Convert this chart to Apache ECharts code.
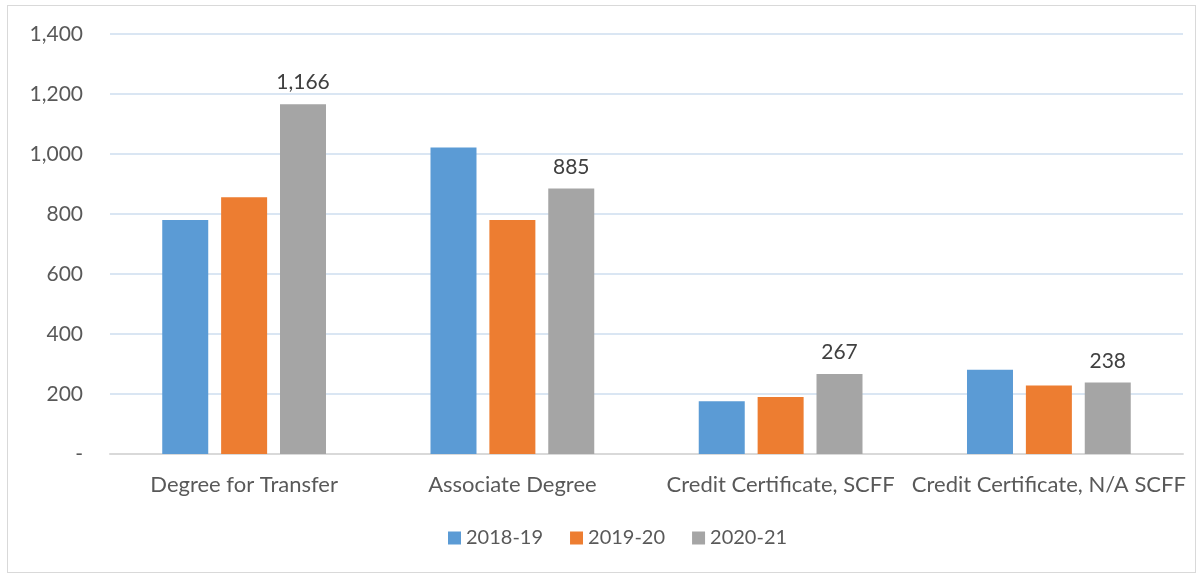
<!DOCTYPE html>
<html lang="en">
<head>
<meta charset="UTF-8">
<title>Awards by type</title>
<script src="https://cdn.jsdelivr.net/npm/echarts@6/dist/echarts.min.js"></script>
<style>
  html, body { margin: 0; padding: 0; background: #fff; }
  #frame { position: absolute; left: 7px; top: 5px; width: 1187px; height: 566px; border: 1px solid #d9d9d9; }
  #main { position: absolute; left: 0; top: 0; width: 1202px; height: 576px; }
</style>
</head>
<body>
<div id="frame"></div>
<div id="main"></div>
<script>
var categories = ['Degree for Transfer', 'Associate Degree', 'Credit Certificate, SCFF', 'Credit Certificate, N/A SCFF'];
var years = ['2018-19', '2019-20', '2020-21'];
var y2018 = [780, 1022, 176, 281];
var y2019 = [856, 780, 190, 228];
var y2020 = [1166, 885, 267, 238];
var yTicks = [0, 200, 400, 600, 800, 1000, 1200, 1400];

var colors = ['#5b9bd5', '#ed7d31', '#a5a5a5'];
var font = 'Lato, "Noto Sans", sans-serif';

function fmt(v) {
    if (v === 0) return '-';
    return v.toLocaleString('en-US');
}

var myChart = echarts.init(document.getElementById('main'));

function bar(name, data, color, withLabel) {
    return {
        name: name,
        type: 'bar',
        data: data,
        barWidth: 46,
        barGap: '28%',
        itemStyle: { color: color },
        label: {
            show: withLabel,
            position: 'top',
            distance: 11,
            color: '#404040',
            fontSize: 21,
            fontFamily: font,
            formatter: function (p) { return fmt(p.value); }
        }
    };
}

var option = {
    animation: false,
    color: colors,
    grid: { left: 110, right: 19, top: 34, bottom: 122 },
    legend: {
        data: years,
        bottom: 23,
        left: 443,
        itemWidth: 13,
        itemHeight: 13,
        itemGap: 27,
        icon: 'rect',
        textStyle: { color: '#595959', fontSize: 20, fontFamily: font }
    },
    xAxis: {
        type: 'category',
        data: categories,
        axisLine: { lineStyle: { color: '#d9d9d9', width: 2 } },
        axisTick: { show: false },
        axisLabel: { color: '#595959', fontSize: 22, fontFamily: font, margin: 20, interval: 0 }
    },
    yAxis: {
        type: 'value',
        min: 0,
        max: 1400,
        interval: 200,
        axisLine: { show: false },
        axisTick: { show: false },
        splitLine: { lineStyle: { color: '#dae6f3', width: 2 } },
        axisLabel: {
            color: '#595959', fontSize: 21, fontFamily: font, margin: 27,
            formatter: function (v) { return yTicks.indexOf(v) >= 0 ? fmt(v) : ''; }
        }
    },
    series: [
        bar(years[0], y2018, colors[0], false),
        bar(years[1], y2019, colors[1], false),
        bar(years[2], y2020, colors[2], true)
    ]
};
myChart.setOption(option);
</script>
</body>
</html>
